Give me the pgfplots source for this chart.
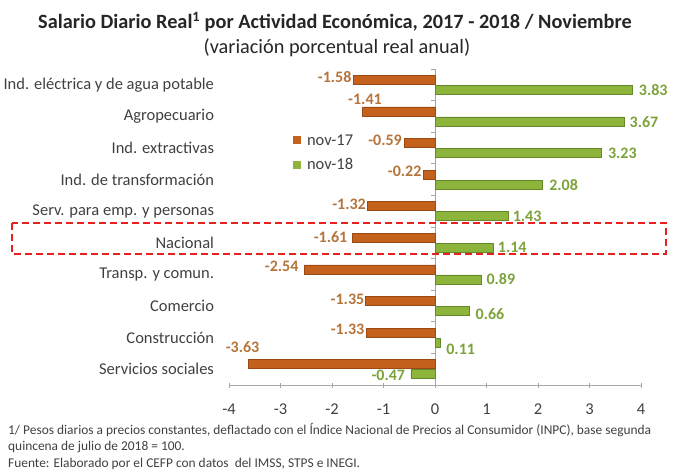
\documentclass[border=0pt]{standalone}
\usepackage{fontspec}
\setmainfont{Carlito}
\usepackage{pgfplots}
\pgfplotsset{compat=1.18}
\usepackage{pgfplotstable}
\definecolor{orA}{HTML}{C4621D}
\definecolor{orB}{HTML}{9A4A12}
\definecolor{grA}{HTML}{8DB43B}
\definecolor{grB}{HTML}{66872A}
\definecolor{orTxt}{HTML}{B5743A}
\definecolor{grTxt}{HTML}{7BA33A}
\definecolor{txt}{HTML}{404040}
\definecolor{axgray}{HTML}{A6A6A6}
\definecolor{redbox}{HTML}{E82020}
\pgfplotstableread{
y v dx dy
9 -1.58 -19 3
8 -1.41 2.6 12
7 -0.59 -19.6 2.4
6 -0.22 -19 3.7
5 -1.32 -18 2
4 -1.61 -21.5 1
3 -2.54 -22.5 2.6
2 -1.35 -18 2
1 -1.33 -19 3
0 -3.63 -5.5 17.5
}\novA
\pgfplotstableread{
y v dx dy
9 3.83 21 0
8 3.67 20 -1
7 3.23 21 -0.6
6 2.08 21.5 0
5 1.43 18.5 0
4 1.14 18.5 0
3 0.89 20 0
2 0.66 21 -3
1 0.11 20 -7
0 -0.47 -22.5 -1.5
}\novB
\begin{document}
\begin{tikzpicture}
\path[use as bounding box] (0,0) rectangle (677pt,-476pt);
\node[font=\bfseries\fontsize{20.3}{22}\selectfont, text=black!85] at (335pt,-22pt) {Salario Diario Real\textsuperscript{1} por Actividad Económica, 2017 - 2018 / Noviembre};
\node[font=\fontsize{20.3}{22}\selectfont, text=black!85] at (337pt,-48pt) {(variación porcentual real anual)};
\begin{axis}[
  at={(229pt,-385pt)}, anchor=south west,
  scale only axis, width=412pt, height=316pt,
  xbar, bar width=9pt,
  xmin=-4, xmax=4, ymin=-0.5, ymax=9.5,
  axis lines*=left,
  y axis line style={draw=none},
  x axis line style={axgray, line width=0.8pt},
  xtick={-4,-3,-2,-1,0,1,2,3,4},
  x tick style={axgray, line width=0.8pt},
  tick align=center, major tick length=5pt,
  ytick={0,...,9},
  ytick style={draw=none},
  yticklabels={Servicios sociales, Construcción, Comercio, Transp. y comun., Nacional, Serv. para emp. y personas, Ind. de transformación, Ind. extractivas, Agropecuario, Ind. eléctrica y de agua potable},
  yticklabel style={font=\fontsize{16.5}{18}\selectfont, text=txt, xshift=-9pt},
  xticklabel style={font=\fontsize{16.5}{18}\selectfont, text=txt, yshift=-13pt},
  /pgf/number format/assume math mode=true,
  /pgf/number format/fixed, /pgf/number format/precision=2,
  visualization depends on={\thisrow{dx}\as\dx},
  visualization depends on={\thisrow{dy}\as\dy},
  nodes near coords,
  legend style={at={(0.155,0.80)}, anchor=north west, draw=none, fill=none, font=\fontsize{16.5}{18}\selectfont, text=txt, row sep=8pt, inner sep=0pt, cells={anchor=west}},
  legend image code/.code={\fill[#1, draw=none] (0pt,-4pt) rectangle (8pt,4pt); \path[draw=none, fill=none] (0pt,0pt) -- (12pt,0pt);},
]
\draw[axgray, line width=0.8pt] (axis cs:0,-0.5) -- (axis cs:0,9.55);
\pgfplotsinvokeforeach{-0.5,0.5,1.5,2.5,3.5,4.5,5.5,6.5,7.5,8.5,9.5}{\draw[axgray, line width=0.8pt] (axis cs:0,#1) -- ([xshift=-4pt]axis cs:0,#1);}
\addplot[draw=orB, line width=0.5pt, fill=orA, bar shift=5pt,
  every node near coord/.append style={font=\bfseries\fontsize{16}{18}\selectfont, text=orTxt, anchor=center, xshift=\dx pt, yshift=\dy pt}]
  table[x=v, y=y] {\novA};
\addplot[draw=grB, line width=0.5pt, fill=grA, bar shift=-5pt,
  every node near coord/.append style={font=\bfseries\fontsize{16}{18}\selectfont, text=grTxt, anchor=center, xshift=\dx pt, yshift=\dy pt}]
  table[x=v, y=y] {\novB};
\legend{nov-17, nov-18}
\end{axis}
\draw[redbox, line width=2.2pt, dash pattern=on 7pt off 4pt] (12pt,-223pt) rectangle (666pt,-254pt);
\node[anchor=west, font=\fontsize{13.4}{15}\selectfont, text=txt, inner sep=0pt] at (8pt,-430pt) {1/ Pesos diarios a precios constantes, deflactado con el Índice Nacional de Precios al Consumidor (INPC), base segunda};
\node[anchor=west, font=\fontsize{13.4}{15}\selectfont, text=txt, inner sep=0pt] at (8pt,-447pt) {quincena de julio de 2018 = 100.};
\node[anchor=west, font=\fontsize{13.4}{15}\selectfont, text=txt, inner sep=0pt] at (8pt,-464pt) {Fuente: Elaborado por el CEFP con datos\ \ del IMSS, STPS e INEGI.};
\end{tikzpicture}
\end{document}
